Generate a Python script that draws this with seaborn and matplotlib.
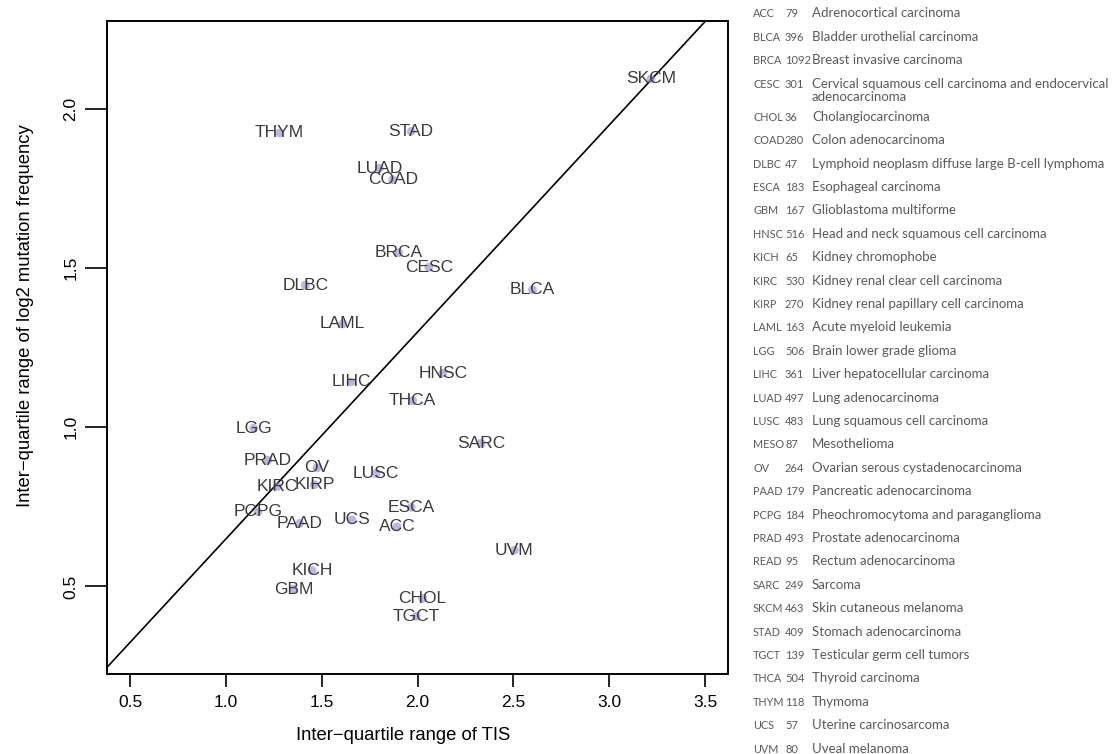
import pandas as pd
import matplotlib
matplotlib.use("Agg")
import matplotlib.pyplot as plt
import seaborn as sns

# cancer types shown in the scatter (MESO and READ are not plotted)
codes = ["SKCM", "THYM", "STAD", "LUAD", "COAD", "BRCA", "CESC", "BLCA", "DLBC",
         "LAML", "LIHC", "HNSC", "THCA", "LGG", "SARC", "PRAD", "OV", "LUSC",
         "KIRC", "KIRP", "ESCA", "PCPG", "PAAD", "UCS", "ACC", "UVM", "KICH",
         "GBM", "CHOL", "TGCT"]
tis_iqr = [3.218, 1.279, 1.966, 1.800, 1.870, 1.901, 2.058, 2.599, 1.414,
           1.609, 1.653, 2.131, 1.974, 1.144, 2.331, 1.218, 1.475, 1.783,
           1.267, 1.461, 1.966, 1.166, 1.384, 1.657, 1.892, 2.505, 1.449,
           1.352, 2.026, 1.992]
mut_iqr = [2.095, 1.925, 1.930, 1.814, 1.778, 1.549, 1.503, 1.432, 1.447,
           1.325, 1.143, 1.170, 1.084, 0.997, 0.950, 0.897, 0.873, 0.855,
           0.814, 0.820, 0.749, 0.735, 0.698, 0.709, 0.687, 0.614, 0.550,
           0.492, 0.462, 0.406]

# side table: abbreviation, number of samples, full name
table_codes = ["ACC", "BLCA", "BRCA", "CESC", "CHOL", "COAD", "DLBC", "ESCA", "GBM",
               "HNSC", "KICH", "KIRC", "KIRP", "LAML", "LGG", "LIHC", "LUAD", "LUSC",
               "MESO", "OV", "PAAD", "PCPG", "PRAD", "READ", "SARC", "SKCM", "STAD",
               "TGCT", "THCA", "THYM", "UCS", "UVM"]
table_counts = ["79", "396", "1092", "301", "36", "280", "47", "183", "167",
                "516", "65", "530", "270", "163", "506", "361", "497", "483",
                "87", "264", "179", "184", "493", "95", "249", "463", "409",
                "139", "504", "118", "57", "80"]
table_names = ["Adrenocortical carcinoma",
               "Bladder urothelial carcinoma",
               "Breast invasive carcinoma",
               "Cervical squamous cell carcinoma and endocervical\nadenocarcinoma",
               "Cholangiocarcinoma",
               "Colon adenocarcinoma",
               "Lymphoid neoplasm diffuse large B-cell lymphoma",
               "Esophageal carcinoma",
               "Glioblastoma multiforme",
               "Head and neck squamous cell carcinoma",
               "Kidney chromophobe",
               "Kidney renal clear cell carcinoma",
               "Kidney renal papillary cell carcinoma",
               "Acute myeloid leukemia",
               "Brain lower grade glioma",
               "Liver hepatocellular carcinoma",
               "Lung adenocarcinoma",
               "Lung squamous cell carcinoma",
               "Mesothelioma",
               "Ovarian serous cystadenocarcinoma",
               "Pancreatic adenocarcinoma",
               "Pheochromocytoma and paraganglioma",
               "Prostate adenocarcinoma",
               "Rectum adenocarcinoma",
               "Sarcoma",
               "Skin cutaneous melanoma",
               "Stomach adenocarcinoma",
               "Testicular germ cell tumors",
               "Thyroid carcinoma",
               "Thymoma",
               "Uterine carcinosarcoma",
               "Uveal melanoma"]

df = pd.DataFrame({"code": codes, "tis": tis_iqr, "mut": mut_iqr})

sns.set_style("ticks")
plt.rcParams["font.family"] = ["Liberation Sans", "DejaVu Sans"]

W, H = 1114, 754
fig = plt.figure(figsize=(W / 100, H / 100), dpi=100)
ax = fig.add_axes([107.3 / W, 1 - 674.3 / H, (728 - 107.3) / W, (674.3 - 21.3) / H])

sns.scatterplot(data=df, x="tis", y="mut", ax=ax, color="#8c88cc", alpha=0.6,
                s=40, edgecolor="none", zorder=2)
ax.axline((0, 0), slope=0.65, color="black", lw=1.2, zorder=1)

for _, r in df.iterrows():
    ax.text(r["tis"], r["mut"], r["code"], ha="center", va="center",
            fontsize=12.5, color="#3a3a3a", zorder=3)

ax.set_xlim(0.38, 3.62)
ax.set_ylim(0.224, 2.276)
ax.set_xticks([0.5, 1.0, 1.5, 2.0, 2.5, 3.0, 3.5])
ax.set_yticks([0.5, 1.0, 1.5, 2.0])
ax.tick_params(axis="x", length=9, width=1.2, pad=6, labelsize=12.5, colors="black")
ax.tick_params(axis="y", length=16, width=1.2, pad=5, labelsize=12.5, colors="black")
for lab in ax.get_yticklabels():
    lab.set_rotation(90)
    lab.set_va("center")
for sp in ax.spines.values():
    sp.set_visible(True)
    sp.set_color("black")
    sp.set_linewidth(1.4)

ax.set_xlabel("Inter\u2212quartile range of TIS", fontsize=13.3, color="black")
ax.set_ylabel("Inter\u2212quartile range of log2 mutation frequency", fontsize=13.3, color="black")
ax.xaxis.set_label_coords((403 - 107.3) / (728 - 107.3), -(727 - 674.3) / (674.3 - 21.3))
ax.yaxis.set_label_coords(-(107.3 - 34) / (728 - 107.3), (674.3 - 316) / (674.3 - 21.3))

# side table
y = 13.3
kw = dict(color="#5a5a5a", family=["Lato", "DejaVu Sans"], va="baseline")
for code, n, name in zip(table_codes, table_counts, table_names):
    base = 1 - (y + 4) / H
    fig.text(753 / W, base, code, fontsize=7.8, **kw)
    fig.text(785 / W, base, n, fontsize=8.0, **kw)
    lines = name.split("\n")
    for k, line in enumerate(lines):
        fig.text(812 / W, base - k * 13.5 / H, line, fontsize=9.5, **kw)
    y += 23.4 + 10 * (len(lines) - 1)

fig.savefig("out.png", dpi=100)
